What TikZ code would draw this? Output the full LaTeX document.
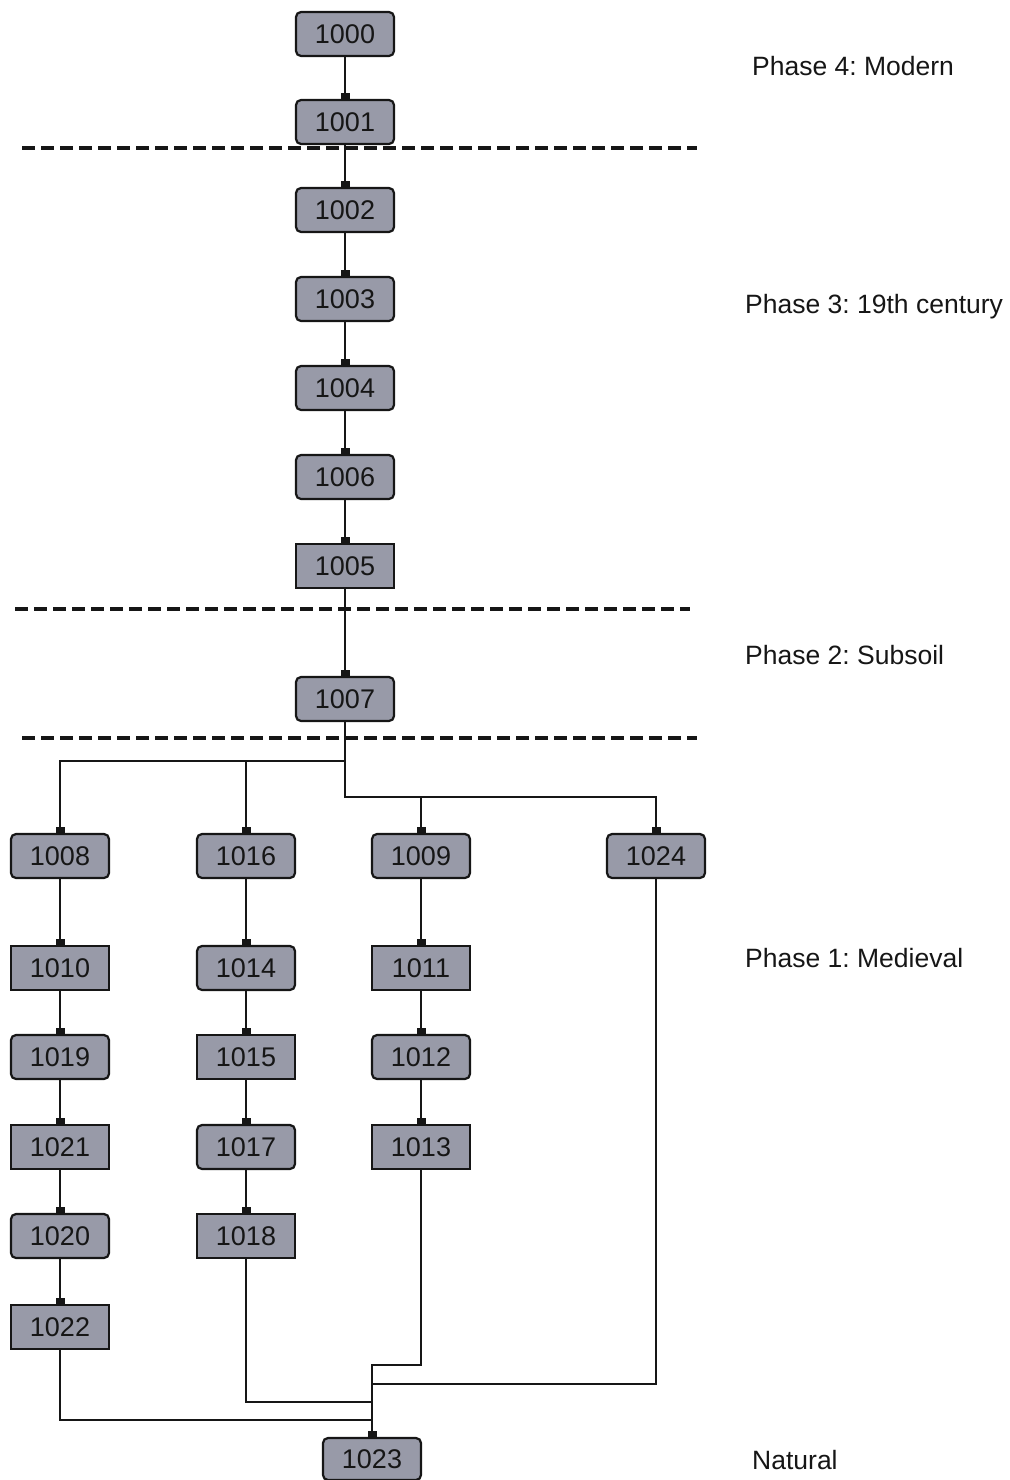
\documentclass[tikz,border=0pt]{standalone}
\usepackage{fontspec}
\setmainfont{Liberation Sans}
\usetikzlibrary{arrows.meta}
\definecolor{boxfill}{RGB}{152,154,168}
\definecolor{inkline}{RGB}{22,22,22}
\frenchspacing
\begin{document}
\begin{tikzpicture}[x=1pt,y=-1pt,
  unitbox/.style={draw=inkline, line width=2.2pt, fill=boxfill, minimum width=98pt,
    minimum height=44pt, inner sep=0pt, text=inkline,
    font=\fontsize{27}{27}\selectfont},
  rbox/.style={unitbox, rounded corners=5pt},
  sbox/.style={unitbox},
  link/.style={draw=inkline, line width=2.2pt, -{Square[length=6pt,width=9pt]}},
  plain/.style={draw=inkline, line width=2.2pt},
  phaseline/.style={draw=inkline, line width=3.2pt, dash pattern=on 13pt off 6pt},
  phaselabel/.style={anchor=west, inner sep=0pt, text=inkline,
    font=\fontsize{26.5}{26.5}\selectfont}]
\useasboundingbox (0,0) rectangle (1009,1480);

% phase separators
\draw[phaseline] (22,148) -- (697,148);
\draw[phaseline] (15,609) -- (690,609);
\draw[phaseline] (22,738) -- (697,738);

% main column
\node[rbox] (n1000) at (345,34) {1000};
\node[rbox] (n1001) at (345,122) {1001};
\node[rbox] (n1002) at (345,210) {1002};
\node[rbox] (n1003) at (345,299) {1003};
\node[rbox] (n1004) at (345,388) {1004};
\node[rbox] (n1006) at (345,477) {1006};
\node[sbox] (n1005) at (345,566) {1005};
\node[rbox] (n1007) at (345,699) {1007};

% column 1
\node[rbox] (n1008) at (60,856) {1008};
\node[sbox] (n1010) at (60,968) {1010};
\node[rbox] (n1019) at (60,1057) {1019};
\node[sbox] (n1021) at (60,1147) {1021};
\node[rbox] (n1020) at (60,1236) {1020};
\node[sbox] (n1022) at (60,1327) {1022};

% column 2
\node[rbox] (n1016) at (246,856) {1016};
\node[rbox] (n1014) at (246,968) {1014};
\node[sbox] (n1015) at (246,1057) {1015};
\node[rbox] (n1017) at (246,1147) {1017};
\node[sbox] (n1018) at (246,1236) {1018};

% column 3
\node[rbox] (n1009) at (421,856) {1009};
\node[sbox] (n1011) at (421,968) {1011};
\node[rbox] (n1012) at (421,1057) {1012};
\node[sbox] (n1013) at (421,1147) {1013};

% column 4
\node[rbox] (n1024) at (656,856) {1024};

% natural
\node[rbox, minimum height=42pt] (n1023) at (372,1459) {1023};

% phase labels
\node[phaselabel] (p4) at (752,66) {Phase 4: Modern};
\node[phaselabel] (p3) at (745,307) {Phase 3: 19th century};
\node[phaselabel] (p2) at (745,655) {Phase 2: Subsoil};
\node[phaselabel] (p1) at (745,958) {Phase 1: Medieval};
\node[phaselabel] (pn) at (752,1460) {Natural};

% main chain
\draw[link] (n1000) -- (n1001);
\draw[link] (n1001) -- (n1002);
\draw[link] (n1002) -- (n1003);
\draw[link] (n1003) -- (n1004);
\draw[link] (n1004) -- (n1006);
\draw[link] (n1006) -- (n1005);
\draw[link] (n1005) -- (n1007);

% split below 1007
\coordinate (ja) at (345,761);
\coordinate (jb) at (345,797);
\draw[link] (n1007.south) -- (ja) -| (n1008.north);
\draw[link] (ja -| n1016) -- (n1016.north);
\draw[link] (ja) -- (jb) -| (n1024.north);
\draw[link] (jb -| n1009) -- (n1009.north);

% columns
\draw[link] (n1008) -- (n1010);
\draw[link] (n1010) -- (n1019);
\draw[link] (n1019) -- (n1021);
\draw[link] (n1021) -- (n1020);
\draw[link] (n1020) -- (n1022);
\draw[link] (n1016) -- (n1014);
\draw[link] (n1014) -- (n1015);
\draw[link] (n1015) -- (n1017);
\draw[link] (n1017) -- (n1018);
\draw[link] (n1009) -- (n1011);
\draw[link] (n1011) -- (n1012);
\draw[link] (n1012) -- (n1013);

% merge into 1023
\coordinate (ba) at (372,1365);
\coordinate (bb) at (372,1384);
\coordinate (bc) at (372,1402);
\coordinate (bd) at (372,1420);
\draw[link] (n1013.south) |- (ba) -- (n1023.north);
\draw[plain] (n1024.south) |- (bb);
\draw[plain] (n1018.south) |- (bc);
\draw[plain] (n1022.south) |- (bd);
\end{tikzpicture}
\end{document}
